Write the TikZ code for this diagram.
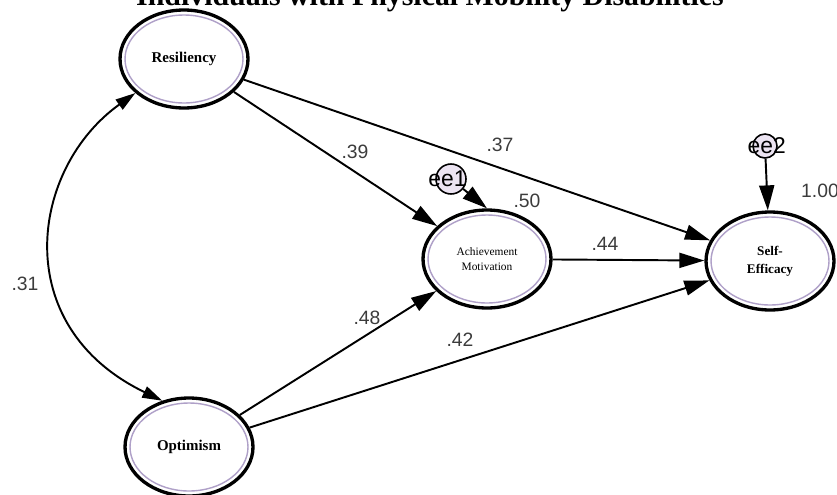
\documentclass[tikz,border=0pt]{standalone}
\usepackage{fontspec}
\setmainfont{Liberation Serif}
\setsansfont{Liberation Sans}
\usetikzlibrary{shapes.geometric,arrows.meta}

\definecolor{ringlav}{RGB}{175,160,200}
\definecolor{errfill}{RGB}{236,228,242}
\definecolor{coefgray}{RGB}{60,60,60}

\tikzset{
  construct/.style={ellipse, draw=black, line width=1.9pt, fill=white,
    minimum width=2.56cm, minimum height=1.96cm, inner sep=0pt, align=center,
    path picture={\draw[ringlav, line width=0.8pt] (path picture bounding box.center)
      ellipse [x radius=1.18cm, y radius=0.88cm];}},
  errterm/.style={circle, draw=black, line width=0.9pt, fill=errfill, inner sep=0pt},
  errtext/.style={font=\sffamily\fontsize{13}{15}\selectfont, text=black},
  effect/.style={-{Triangle[length=5mm,width=3mm]}, line width=1.1pt},
  coef/.style={font=\sffamily\fontsize{11}{13}\selectfont, text=coefgray},
}

\begin{document}
\begin{tikzpicture}[x=0.02cm, y=-0.02cm]
  \useasboundingbox (0,0) rectangle (837,494);

  \node[font=\bfseries\fontsize{17}{20}\selectfont, anchor=base] (title) at (430,5)
    {Individuals with Physical Mobility Disabilities};

  % constructs
  \node[construct, font=\bfseries\fontsize{8.5}{10}\selectfont] (res) at (184,59) {Resiliency};
  \node[construct, font=\bfseries\fontsize{8.5}{10}\selectfont] (opt) at (189,447) {Optimism};
  \node[construct, font=\fontsize{6.5}{8.5}\selectfont] (am) at (487,259) {Achievement\\Motivation};
  \node[construct, font=\bfseries\fontsize{7.5}{10}\selectfont] (se) at (770,261) {Self-\\Efficacy};

  % error terms
  \node[errterm, minimum size=0.6cm, label={[errtext, xshift=-2pt]center:ee1}] (ee1) at (451,179) {};
  \node[errterm, minimum size=0.48cm, label={[errtext, xshift=1pt]center:ee2}] (ee2) at (765,146) {};

  % paths
  \draw[effect] (res) -- (am);
  \draw[effect] (res) -- (se);
  \draw[effect] (opt) -- (am);
  \draw[effect] (opt) -- (se);
  \draw[effect] (am) -- (se);
  \draw[effect] (ee1) -- (am.north);
  \draw[effect] (ee2) -- (se);
  \draw[{Triangle[length=4mm,width=2.4mm]}-{Triangle[length=4mm,width=2.4mm]}, line width=1.1pt]
    (res.215) .. controls +(-105,75) and +(-155,-75) .. (opt.120);

  % coefficients
  \node[coef] (c39) at (355,152) {.39};
  \node[coef] (c37) at (500,145) {.37};
  \node[coef] (c50) at (527,201) {.50};
  \node[coef] (c44) at (605,244) {.44};
  \node[coef] (c48) at (367,318) {.48};
  \node[coef] (c42) at (460,340) {.42};
  \node[coef] (c31) at (25,284) {.31};
  \node[coef, anchor=west] (c100) at (795,191) {1.00};
\end{tikzpicture}
\end{document}
